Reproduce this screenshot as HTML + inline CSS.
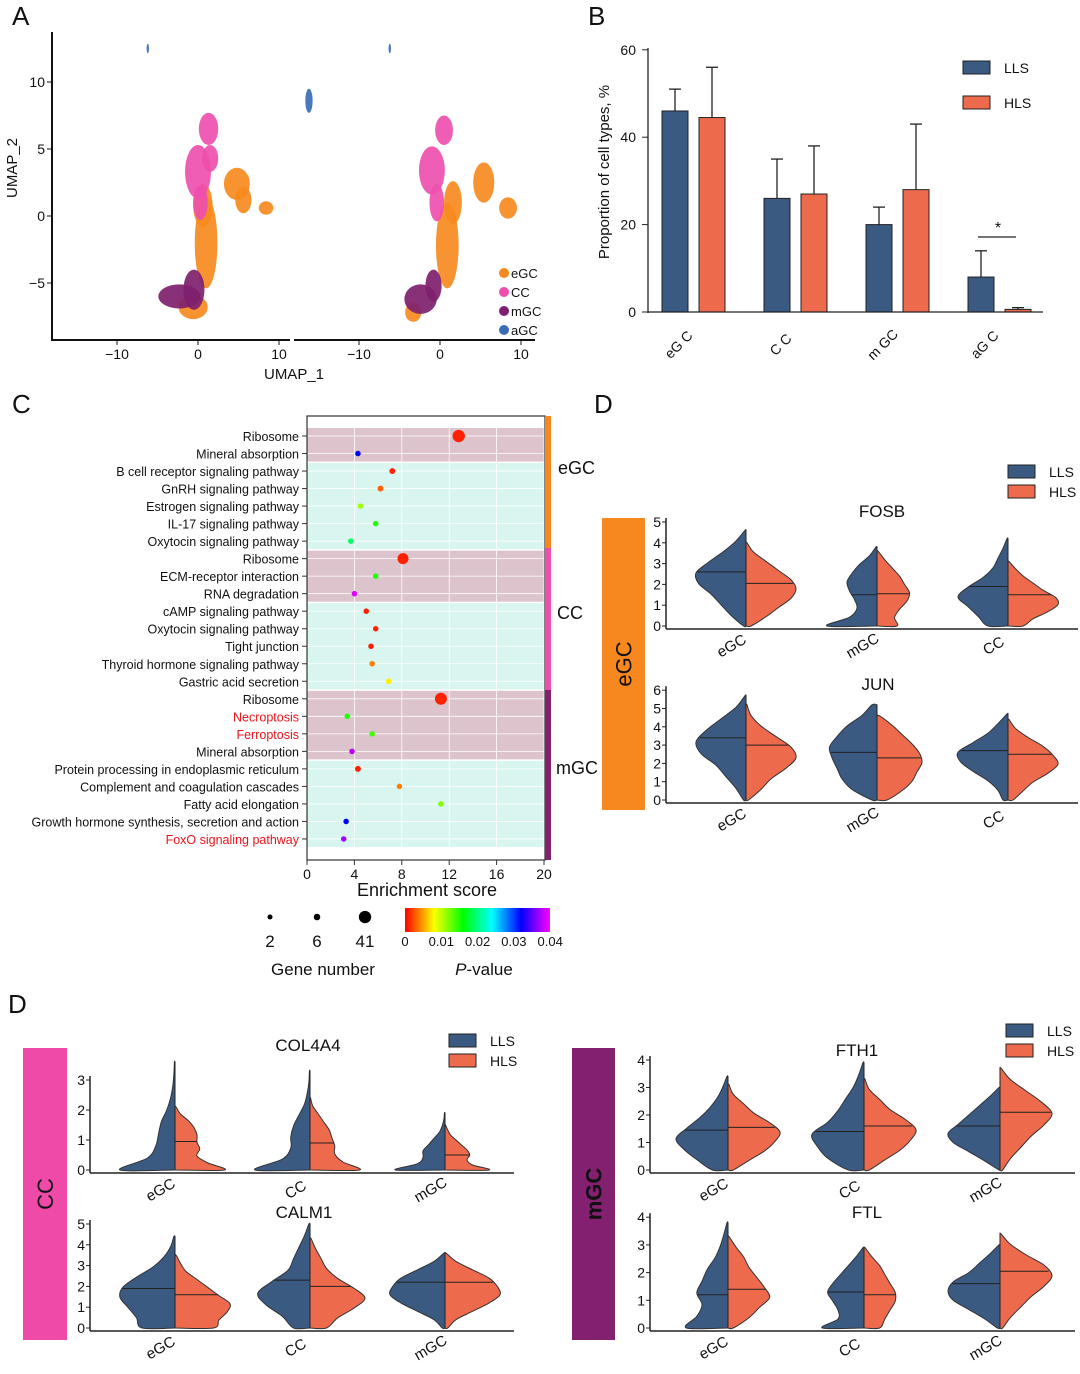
<!DOCTYPE html>
<html><head><meta charset="utf-8"><style>
body{margin:0;background:#fff}
svg text{font-family:"Liberation Sans",Arial,sans-serif}
</style></head><body>
<svg id="fig" xmlns="http://www.w3.org/2000/svg" width="1080" height="1369" viewBox="0 0 1080 1369" fill="#111">
<rect width="1080" height="1369" fill="#fff"/>
<text x="12" y="25" font-size="26">A</text>
<text x="588" y="25" font-size="26">B</text>
<text x="12" y="413" font-size="26">C</text>
<text x="594" y="413" font-size="26">D</text>
<text x="8" y="1013" font-size="26">D</text>
<g id="A"></g>
<g id="B"></g>
<g id="C"></g>
<g id="D"></g>
</svg>
<script>
const NS="http://www.w3.org/2000/svg";
function el(p,t,a,txt){const e=document.createElementNS(NS,t);for(const k in a)e.setAttribute(k,a[k]);if(txt!==undefined)e.textContent=txt;p.appendChild(e);return e;}
const LLS="#3a5a82",HLS="#ee6a4c";

// ---------- Panel A: UMAP ----------
const umapColors={eGC:"#f68a1e",CC:"#ee4fae",mGC:"#7e1f6e",aGC:"#3a6db5"};
const umapBlobs=[ // [panelIdx, type, x, y, rx, ry]
 [0,"eGC",1.0,-2.0,1.4,3.4],[0,"eGC",0.6,0.8,1.2,1.6],[0,"eGC",4.8,2.4,1.6,1.2],[0,"eGC",5.6,1.2,1.0,1.0],[0,"eGC",8.4,0.6,0.9,0.5],[0,"eGC",-0.6,-6.8,1.8,0.9],
 [0,"CC",0.0,3.3,1.6,2.0],[0,"CC",0.3,1.0,0.9,1.3],[0,"CC",1.3,6.5,1.2,1.2],[0,"CC",1.5,4.3,1.0,1.0],
 [0,"mGC",-2.3,-6.0,2.6,0.9],[0,"mGC",-0.5,-5.5,1.3,1.5],
 [1,"eGC",0.9,-2.2,1.4,3.2],[1,"eGC",1.6,1.0,1.1,1.6],[1,"eGC",5.4,2.5,1.3,1.5],[1,"eGC",8.4,0.6,1.1,0.8],[1,"eGC",-3.3,-7.2,1.0,0.7],
 [1,"CC",-1.0,3.4,1.6,1.8],[1,"CC",-0.4,1.0,0.9,1.4],[1,"CC",0.5,6.4,1.1,1.1],
 [1,"mGC",-2.4,-6.2,2.0,1.1],[1,"mGC",-0.8,-5.2,1.0,1.2],
 [0,"aGC",13.7,8.6,0.45,0.9],[0,"aGC",-6.2,12.5,0.15,0.35],[1,"aGC",-6.2,12.5,0.15,0.35]
];
(function(){
 const g=document.getElementById("A");
 const x0=[198,440],sx=8.1,y0=216,sy=13.4;
 const X=(i,v)=>x0[i]+v*sx, Y=v=>y0-v*sy;
 umapBlobs.forEach(b=>{
  const e=el(g,"ellipse",{cx:X(b[0],b[2]),cy:Y(b[3]),rx:b[4]*sx,ry:b[5]*sy,fill:umapColors[b[1]],opacity:0.92});
  
  
 });
 el(g,"line",{x1:52,y1:32,x2:52,y2:341,stroke:"#111","stroke-width":2});
 el(g,"line",{x1:52,y1:340,x2:290,y2:340,stroke:"#111","stroke-width":2});
 el(g,"line",{x1:294,y1:340,x2:535,y2:340,stroke:"#111","stroke-width":2});
 [10,5,0,-5].forEach(v=>{el(g,"line",{x1:47,x2:52,y1:Y(v),y2:Y(v),stroke:"#111"});el(g,"text",{x:45,y:Y(v)+5,"text-anchor":"end","font-size":14},v<0?"−"+(-v):v);});
 [0,1].forEach(i=>[-10,0,10].forEach(v=>{el(g,"line",{x1:X(i,v),x2:X(i,v),y1:340,y2:345,stroke:"#111"});el(g,"text",{x:X(i,v),y:359,"text-anchor":"middle","font-size":14},v<0?"−10":v);}));
 el(g,"text",{x:294,y:379,"text-anchor":"middle","font-size":15},"UMAP_1");
 el(g,"text",{x:17,y:168,"text-anchor":"middle","font-size":15,transform:"rotate(-90 17 168)"},"UMAP_2");
 ["eGC","CC","mGC","aGC"].forEach((k,i)=>{const y=273+i*19;el(g,"circle",{cx:504,cy:y,r:5,fill:umapColors[k]});el(g,"text",{x:511,y:y+5,"font-size":13},k);});
})();

// ---------- Panel B: bars ----------
const bCats=["eG C","C C","m GC","aG C"];
const bLLS=[46,26,20,8];
const bHLS=[44.5,27,28,0.6];
const bLLSerr=[51,35,24,14];
const bHLSerr=[56,38,43,1];
const bTicks=[0,20,40,60];
(function(){
 const g=document.getElementById("B");
 const Y=v=>312-v*4.37; const cx=i=>694+i*102;
 bCats.forEach((c,i)=>{
  [[bLLS,bLLSerr,LLS,-32],[bHLS,bHLSerr,HLS,5]].forEach(s=>{
   const x=cx(i)+s[3];
   el(g,"line",{x1:x+13,x2:x+13,y1:Y(s[1][i]),y2:Y(s[0][i]),stroke:"#222","stroke-width":1.3});
   el(g,"line",{x1:x+7,x2:x+19,y1:Y(s[1][i]),y2:Y(s[1][i]),stroke:"#222","stroke-width":1.3});
   const r=el(g,"rect",{x:x,y:Y(s[0][i]),width:26,height:312-Y(s[0][i]),fill:s[2],stroke:"#222","stroke-width":1});
   
   
  });
  el(g,"text",{x:cx(i)-12,y:348,"text-anchor":"middle","font-size":14,transform:`rotate(-45 ${cx(i)-12} 348)`},c);
 });
 el(g,"line",{x1:648,y1:48,x2:648,y2:313,stroke:"#222","stroke-width":1.3});
 el(g,"line",{x1:648,y1:312,x2:1043,y2:312,stroke:"#222","stroke-width":1.3});
 bTicks.forEach(v=>{el(g,"line",{x1:642,x2:648,y1:Y(v),y2:Y(v),stroke:"#222"});el(g,"text",{x:636,y:Y(v)+5,"text-anchor":"end","font-size":14},v);});
 el(g,"text",{x:609,y:172,"text-anchor":"middle","font-size":15,transform:"rotate(-90 609 172)"},"Proportion of cell types,  %");
 el(g,"line",{x1:978,x2:1016,y1:237,y2:237,stroke:"#222","stroke-width":1.3});
 el(g,"text",{x:998,y:233,"text-anchor":"middle","font-size":16},"*");
 el(g,"rect",{x:963,y:61,width:27,height:13,fill:LLS,stroke:"#222"});el(g,"text",{x:1004,y:73,"font-size":14},"LLS");
 el(g,"rect",{x:963,y:96,width:27,height:13,fill:HLS,stroke:"#222"});el(g,"text",{x:1004,y:108,"font-size":14},"HLS");
})();

// ---------- Panel C: dot plot ----------
const cTerms=["Ribosome","Mineral absorption","B cell receptor signaling pathway","GnRH signaling pathway","Estrogen signaling pathway","IL-17 signaling pathway","Oxytocin signaling pathway","Ribosome","ECM-receptor interaction","RNA degradation","cAMP signaling pathway","Oxytocin signaling pathway","Tight junction","Thyroid hormone signaling pathway","Gastric acid secretion","Ribosome","Necroptosis","Ferroptosis","Mineral absorption","Protein processing in endoplasmic reticulum","Complement and coagulation cascades","Fatty acid elongation","Growth hormone synthesis, secretion and action","FoxO signaling pathway"];
const cScore=[12.8,4.3,7.2,6.2,4.5,5.8,3.7,8.1,5.8,4.0,5.0,5.8,5.4,5.5,6.9,11.3,3.4,5.5,3.8,4.3,7.8,11.3,3.3,3.1];
const cPval=[0.001,0.032,0.001,0.003,0.011,0.015,0.019,0.001,0.015,0.039,0.001,0.001,0.001,0.004,0.0075,0.001,0.015,0.014,0.038,0.001,0.004,0.012,0.032,0.037];
const cGenes=[41,3,4,4,3,3,3,30,3,3,3,3,3,3,3,38,3,3,3,4,3,3,3,3];
const cRed=[16,17,23];
const cTicks=[0,4,8,12,16,20];
(function(){
 const g=document.getElementById("C");
 const X=v=>307+v*11.85, Y=i=>436+i*17.52;
 const col=p=>`hsl(${Math.min(300,p/0.04*300)},100%,50%)`;
 const rad=n=>1.5+0.73*Math.sqrt(n);
 const bands=[[0,1,"#dcc3cc"],[2,6,"#d9f5f0"],[7,9,"#dcc3cc"],[10,14,"#d9f5f0"],[15,18,"#dcc3cc"],[19,23,"#d9f5f0"]];
 bands.forEach(b=>el(g,"rect",{x:307,y:Y(b[0])-8,width:238,height:Y(b[1])-Y(b[0])+16,fill:b[2]}));
 cTicks.forEach(v=>el(g,"line",{x1:X(v),x2:X(v),y1:416,y2:860,stroke:"#fff","stroke-width":0.8}));
 cTerms.forEach((t,i)=>{
  el(g,"line",{x1:307,x2:545,y1:Y(i),y2:Y(i),stroke:"#fff","stroke-width":0.8});
  el(g,"text",{x:299,y:Y(i)+5,"text-anchor":"end","font-size":12.5,fill:cRed.includes(i)?"#e8141b":"#111"},t);
  el(g,"line",{x1:302,x2:307,y1:Y(i),y2:Y(i),stroke:"#333"});
 });
 cTerms.forEach((t,i)=>{
  const d=el(g,"circle",{cx:X(cScore[i]),cy:Y(i),r:rad(cGenes[i]),fill:col(cPval[i])});
  
  
 });
 el(g,"rect",{x:307,y:416,width:238,height:444,fill:"none",stroke:"#333","stroke-width":1.2});
 el(g,"rect",{x:545,y:416,width:6,height:132,fill:"#f7871f"});
 el(g,"rect",{x:545,y:548,width:6,height:142,fill:"#ee4fae"});
 el(g,"rect",{x:545,y:690,width:6,height:170,fill:"#842070"});
 el(g,"text",{x:558,y:474,"font-size":18},"eGC");
 el(g,"text",{x:557,y:619,"font-size":18},"CC");
 el(g,"text",{x:556,y:774,"font-size":18},"mGC");
 cTicks.forEach(v=>{el(g,"line",{x1:X(v),x2:X(v),y1:860,y2:865,stroke:"#333"});el(g,"text",{x:X(v),y:879,"text-anchor":"middle","font-size":14},v);});
 el(g,"text",{x:427,y:896,"text-anchor":"middle","font-size":18},"Enrichment score");
 [[270,2],[317,6],[365,41]].forEach(s=>{el(g,"circle",{cx:s[0],cy:917,r:rad(s[1]),fill:"#000"});el(g,"text",{x:s[0],y:947,"text-anchor":"middle","font-size":17},s[1]);});
 const defs=el(g,"defs",{});const lg=el(defs,"linearGradient",{id:"pg",x1:0,x2:1,y1:0,y2:0});
 [0,0.2,0.4,0.6,0.8,1].forEach(o=>el(lg,"stop",{offset:o,"stop-color":`hsl(${o*300},100%,50%)`}));
 el(g,"rect",{x:405,y:908,width:145,height:24,fill:"url(#pg)"});
 [0,0.01,0.02,0.03,0.04].forEach((v,i)=>el(g,"text",{x:405+i*36.3,y:946,"text-anchor":"middle","font-size":13},v));
 el(g,"text",{x:323,y:975,"text-anchor":"middle","font-size":17},"Gene number");
 const pt=el(g,"text",{x:484,y:975,"text-anchor":"middle","font-size":17});
 el(pt,"tspan",{"font-style":"italic"},"P");el(pt,"tspan",{},"-value");
})();

// ---------- Panel D: violins ----------
const groupsTop=["eGC","mGC","CC"];
const groupsBot=["eGC","CC","mGC"];
const fosbTop=[[4.6,4.0],[3.8,3.6],[4.2,3.1]];
const fosbMed=[[2.6,2.05],[1.5,1.55],[1.9,1.5]];
const fosbDens=[[[0.05,0.3,0.5,0.7,0.95,1.0,0.75,0.45,0.2,0.02],[0.1,0.4,0.65,0.9,1.0,0.9,0.65,0.4,0.15,0.02]],
 [[1.0,0.55,0.4,0.45,0.55,0.6,0.5,0.35,0.15,0.02],[0.4,0.35,0.45,0.6,0.65,0.55,0.45,0.3,0.15,0.02]],
 [[0.4,0.6,0.8,1.0,0.8,0.5,0.3,0.2,0.1,0.02],[0.3,0.5,0.8,1.0,0.95,0.7,0.5,0.3,0.15,0.02]]];
const junTop=[[5.7,5.2],[5.2,4.6],[4.7,4.4]];
const junMed=[[3.4,3.0],[2.6,2.3],[2.7,2.5]];
const junDens=[[[0.05,0.2,0.4,0.6,0.9,1.0,0.8,0.5,0.2,0.02],[0.05,0.3,0.5,0.8,1.0,0.9,0.6,0.3,0.1,0.02]],
 [[0.1,0.5,0.7,0.8,0.9,0.95,0.8,0.6,0.3,0.1],[0.2,0.5,0.7,0.8,0.9,0.85,0.7,0.5,0.3,0.05]],
 [[0.1,0.2,0.4,0.7,0.95,1.0,0.7,0.4,0.2,0.02],[0.1,0.3,0.5,0.8,1.0,0.9,0.7,0.4,0.15,0.02]]];
const colTop=[[3.6,2.1],[3.3,2.4],[1.9,1.5]];
const colMed=[[0,0.95],[0,0.9],[0,0.5]];
const colDens=[[[1.0,0.5,0.35,0.3,0.25,0.15,0.08,0.04,0.02,0.01],[0.9,0.6,0.4,0.45,0.4,0.4,0.35,0.25,0.1,0.02]],
 [[1.0,0.5,0.35,0.35,0.3,0.2,0.1,0.05,0.02,0.01],[0.9,0.6,0.45,0.45,0.4,0.35,0.25,0.15,0.05,0.01]],
 [[0.9,0.5,0.4,0.4,0.3,0.2,0.1,0.05,0.02,0.01],[0.8,0.5,0.4,0.45,0.4,0.3,0.2,0.1,0.05,0.01]]];
const calTop=[[4.4,3.5],[5.0,4.3],[3.6,3.6]];
const calMed=[[1.9,1.6],[2.3,2.0],[2.2,2.2]];
const calDens=[[[0.6,0.7,0.85,1.0,0.95,0.7,0.4,0.2,0.08,0.02],[0.7,0.8,0.95,1.0,0.8,0.6,0.4,0.2,0.1,0.02]],
 [[0.3,0.5,0.8,0.95,0.7,0.4,0.3,0.2,0.1,0.02],[0.3,0.5,0.8,1.0,0.8,0.5,0.3,0.2,0.1,0.02]],
 [[0.05,0.2,0.5,0.8,1.0,0.95,0.8,0.5,0.2,0.02],[0.05,0.2,0.5,0.8,1.0,0.95,0.8,0.5,0.2,0.02]]];
const fthTop=[[3.4,3.1],[3.9,3.3],[3.0,3.7]];
const fthMed=[[1.45,1.55],[1.4,1.6],[1.6,2.1]];
const fthDens=[[[0.3,0.6,0.85,1.0,0.8,0.55,0.35,0.2,0.1,0.02],[0.1,0.4,0.7,0.9,1.0,0.8,0.5,0.3,0.1,0.02]],
 [[0.3,0.7,0.9,1.0,0.7,0.5,0.35,0.2,0.1,0.02],[0.1,0.4,0.7,0.9,1.0,0.8,0.5,0.3,0.1,0.02]],
 [[0.02,0.3,0.6,0.9,1.0,0.8,0.6,0.4,0.2,0.02],[0.05,0.2,0.4,0.6,0.85,1.0,0.8,0.5,0.2,0.02]]];
const ftlTop=[[3.8,3.3],[2.9,2.9],[3.0,3.4]];
const ftlMed=[[1.2,1.4],[1.3,1.2],[1.6,2.05]];
const ftlDens=[[[0.8,0.6,0.5,0.6,0.5,0.4,0.25,0.15,0.08,0.02],[0.1,0.4,0.6,0.8,0.7,0.55,0.4,0.3,0.15,0.02]],
 [[0.8,0.5,0.5,0.6,0.7,0.6,0.45,0.3,0.15,0.02],[0.3,0.4,0.5,0.6,0.6,0.5,0.4,0.3,0.15,0.02]],
 [[0.05,0.3,0.6,0.9,1.0,0.9,0.6,0.4,0.2,0.02],[0.05,0.2,0.4,0.6,0.85,1.0,0.85,0.5,0.2,0.02]]];

const G=document.getElementById("D");
function smooth(pts){let d=`M${pts[0][0]},${pts[0][1]}`;for(let i=0;i<pts.length-1;i++){const p0=pts[i-1]||pts[i],p1=pts[i],p2=pts[i+1],p3=pts[i+2]||p2;d+=` C${p1[0]+(p2[0]-p0[0])/6},${p1[1]+(p2[1]-p0[1])/6} ${p2[0]-(p3[0]-p1[0])/6},${p2[1]-(p3[1]-p1[1])/6} ${p2[0]},${p2[1]}`;}return d;}
function panel(o){
 const g=el(G,"g",{});
 
 
 const Y=v=>o.y0-v*o.sy;
 o.groups.forEach((grp,i)=>{
  const cx=o.cx[i];
  [0,1].forEach(s=>{
   const side=s?1:-1,dens=o.dens[i][s],top=o.top[i][s],n=dens.length;
   const pts=[[cx,Y(0)]];
   dens.forEach((w,k)=>pts.push([cx+side*w*o.W,Y(top*k/(n-1))]));
   pts.push([cx,Y(top)]);
   const p=el(g,"path",{d:smooth(pts)+"Z",fill:s?HLS:LLS,stroke:"#333","stroke-width":1});
   
   
   const m=o.med[i][s];const f=m/top*(n-1),k=Math.min(n-2,Math.floor(f));const w=dens[k]+(dens[k+1]-dens[k])*(f-k);
   if(m>0)el(g,"line",{x1:cx,x2:cx+side*w*o.W,y1:Y(m),y2:Y(m),stroke:"#222","stroke-width":1});
  });
  el(g,"line",{x1:cx,x2:cx,y1:Y(0),y2:Y(Math.max(...o.top[i])),stroke:"#222","stroke-width":1});
  el(g,"text",{x:cx-12,y:o.y0+24,"text-anchor":"middle","font-size":15,transform:`rotate(-30 ${cx-12} ${o.y0+24})`},grp);
 });
 el(g,"line",{x1:o.ax,y1:o.y0+3,x2:o.ax,y2:Y(o.ticks[o.ticks.length-1])-4,stroke:"#222","stroke-width":1.5});
 el(g,"line",{x1:o.ax,y1:o.y0+3,x2:o.ax2,y2:o.y0+3,stroke:"#222","stroke-width":1.5});
 o.ticks.forEach(v=>{el(g,"line",{x1:o.ax-4,x2:o.ax,y1:Y(v),y2:Y(v),stroke:"#222"});el(g,"text",{x:o.ax-5,y:Y(v)+5,"text-anchor":"end","font-size":14},v);});
 el(g,"text",{x:o.tx,y:o.ty,"text-anchor":"middle","font-size":17},o.title);
}
function legend(x,y){el(G,"rect",{x:x,y:y,width:27,height:13,fill:LLS,stroke:"#222"});el(G,"text",{x:x+41,y:y+12,"font-size":14},"LLS");
 el(G,"rect",{x:x,y:y+20,width:27,height:13,fill:HLS,stroke:"#222"});el(G,"text",{x:x+41,y:y+32,"font-size":14},"HLS");}
function sidebar(x,y,w,h,c,t){el(G,"rect",{x:x,y:y,width:w,height:h,fill:c});el(G,"text",{x:x+w/2+8,y:y+h/2,"text-anchor":"middle","font-size":22,"font-weight":t=="mGC"?"bold":"normal",transform:`rotate(-90 ${x+w/2+8} ${y+h/2})`},t);}
sidebar(602,518,43,292,"#f7871f","eGC");
sidebar(23,1048,44,292,"#f04aa9","CC");
sidebar(572,1048,43,292,"#842070","mGC");
legend(1008,465);legend(449,1034);legend(1006,1024);
panel({name:"fosb-violin",groups:groupsTop,cx:[746,877,1008],y0:626,sy:20.8,W:50,ax:666,ax2:1078,ticks:[0,1,2,3,4,5],top:fosbTop,med:fosbMed,dens:fosbDens,title:"FOSB",tx:882,ty:517});
panel({name:"jun-violin",groups:groupsTop,cx:[746,877,1008],y0:800,sy:18.3,W:50,ax:666,ax2:1078,ticks:[0,1,2,3,4,5,6],top:junTop,med:junMed,dens:junDens,title:"JUN",tx:878,ty:690});
panel({name:"col4a4-violin",groups:groupsBot,cx:[175,310,445],y0:1170,sy:30,W:55,ax:90,ax2:514,ticks:[0,1,2,3],top:colTop,med:colMed,dens:colDens,title:"COL4A4",tx:308,ty:1051});
panel({name:"calm1-violin",groups:groupsBot,cx:[175,310,445],y0:1328,sy:20.8,W:55,ax:90,ax2:514,ticks:[0,1,2,3,4,5],top:calTop,med:calMed,dens:calDens,title:"CALM1",tx:304,ty:1218});
panel({name:"fth1-violin",groups:groupsBot,cx:[728,864,1000],y0:1170,sy:27.5,W:52,ax:650,ax2:1075,ticks:[0,1,2,3,4],top:fthTop,med:fthMed,dens:fthDens,title:"FTH1",tx:857,ty:1056});
panel({name:"ftl-violin",groups:groupsBot,cx:[728,864,1000],y0:1328,sy:27.7,W:52,ax:650,ax2:1075,ticks:[0,1,2,3,4],top:ftlTop,med:ftlMed,dens:ftlDens,title:"FTL",tx:867,ty:1218});
</script>
</body></html>
